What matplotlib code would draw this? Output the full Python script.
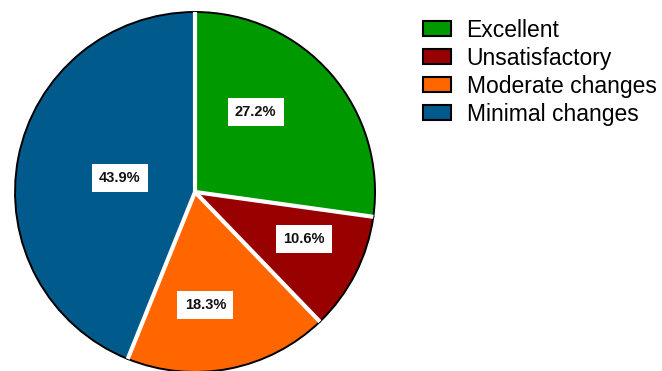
import numpy as np
import matplotlib
matplotlib.use("Agg")
import matplotlib.pyplot as plt

plt.rcParams['font.family'] = ['Liberation Sans', 'DejaVu Sans']

categories = ['Excellent', 'Unsatisfactory', 'Moderate changes', 'Minimal changes']
shares = [27.2, 10.6, 18.3, 43.9]
colors = ['#009900', '#990000', '#ff6600', '#005a8c']

# label placement: distance from centre (radius units) and nudge from wedge middle (deg)
label_dist = [0.557, 0.66, 0.631, 0.426]
label_nudge = [11.8, 3.7, -5.7, 0.5]

fig = plt.figure(figsize=(6.62, 3.71), dpi=100)
ax = fig.add_axes([0.0227, -0.0027, 0.5438, 0.9704])

wedges, texts, autotexts = ax.pie(
    shares, colors=colors, startangle=90, counterclock=False,
    autopct='%1.1f%%',
    wedgeprops=dict(edgecolor='black', linewidth=1.4),
    textprops=dict(fontsize=10.5, fontweight='bold', color='#111111'),
)

for w, t, d, n in zip(wedges, autotexts, label_dist, label_nudge):
    mid = np.deg2rad((w.theta1 + w.theta2) / 2 + n)
    t.set_position((d * np.cos(mid), d * np.sin(mid)))
    t.set_bbox(dict(boxstyle='square,pad=0.5', facecolor='white', edgecolor='none'))

# white separators between slices
for w in wedges:
    a = np.deg2rad(w.theta1)
    ax.plot([0, np.cos(a)], [0, np.sin(a)], color='white', lw=3, solid_capstyle='butt', zorder=3)

ax.set_xlim(-1, 1)
ax.set_ylim(-1, 1)
ax.set_aspect('equal')
ax.axis('off')

leg = fig.legend(wedges, categories, loc='upper left', bbox_to_anchor=(0.639, 0.95),
                 frameon=False, fontsize=16.5, borderpad=0, borderaxespad=0,
                 labelspacing=0.22, handlelength=1.2, handleheight=0.65, handletextpad=0.7)
for h in leg.legend_handles:
    h.set_edgecolor('black')
    h.set_linewidth(1.5)

fig.savefig('out.png', dpi=100)
